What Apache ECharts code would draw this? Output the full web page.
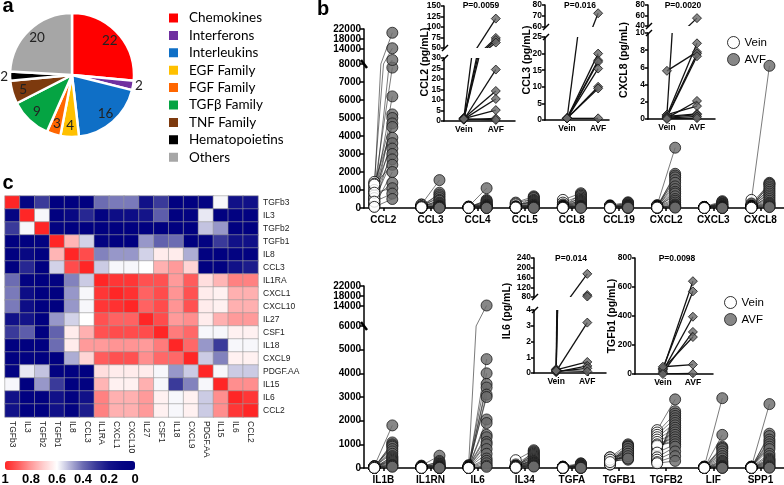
<!DOCTYPE html>
<html>
<head>
<meta charset="utf-8">
<title>Cytokines: vein vs AVF</title>
<script src="https://cdn.jsdelivr.net/npm/echarts@6.0.0/dist/echarts.min.js"></script>
<style>
  html, body { margin: 0; padding: 0; background: #fff; }
  #chart { width: 784px; height: 485px; }
</style>
</head>
<body>
<div id="chart"></div>
<script>
(function () {
  'use strict';

  // ---------- panel a : cytokine families ----------
  var familyNames = ['Chemokines', 'Interferons', 'Interleukins', 'EGF Family', 'FGF Family',
    'TGFβ Family', 'TNF Family', 'Hematopoietins', 'Others'];
  var familyCounts = [22, 2, 16, 4, 3, 9, 5, 2, 20];
  var familyColors = ['#ff0000', '#7030a0', '#0f6fc6', '#ffc000', '#ff6600',
    '#05a443', '#7d3a0e', '#000000', '#a6a6a6'];

  // ---------- panel b, top : chemokines (pg/mL) ----------
  var chemokines = ['CCL2', 'CCL3', 'CCL4', 'CCL5', 'CCL8', 'CCL19', 'CXCL2', 'CXCL3', 'CXCL8'];
  var chemoVein = [
    [900, 1450, 300, 1100, 600, 1200, 200, 800, 1350, 500, 1000, 150, 700, 400, 1300, 100, 550, 850, 350, 60],
    [200, 30, 150, 80, 120, 20, 100, 60, 180, 40, 90, 10, 50, 60, 80, 30, 100, 20, 50, 40],
    [80, 20, 60, 40, 50, 10, 70, 30, 50, 20, 40, 10, 60, 30, 20, 40, 50, 30, 20, 10],
    [300, 60, 250, 40, 150, 30, 200, 20, 100, 50, 80, 10, 60, 30, 40, 20, 50, 10, 20, 30],
    [450, 100, 300, 60, 200, 40, 150, 30, 120, 20, 100, 10, 80, 80, 60, 50, 40, 30, 20, 10],
    [150, 60, 120, 40, 100, 30, 80, 20, 50, 10, 100, 40, 80, 30, 60, 20, 50, 10, 30, 10],
    [160, 50, 130, 40, 100, 30, 80, 20, 60, 10, 120, 90, 70, 50, 30, 20, 10, 60, 40, 20],
    [60, 10, 50, 20, 40, 30, 50, 40, 30, 20, 10, 60, 50, 40, 30, 20, 10, 5, 5, 5],
    [450, 60, 250, 40, 200, 30, 150, 20, 120, 10, 100, 100, 80, 80, 60, 50, 40, 30, 20, 10]
  ];
  var chemoAvf = [
    [20500, 14300, 9600, 7800, 6200, 5200, 5000, 4700, 4500, 3900, 3600, 3300, 3000, 2700, 2400, 2000, 1400, 1100, 800, 500],
    [1550, 850, 750, 650, 550, 450, 400, 300, 250, 200, 150, 120, 100, 80, 60, 50, 40, 30, 20, 10],
    [1100, 450, 400, 350, 300, 250, 200, 180, 150, 120, 100, 80, 60, 50, 40, 30, 20, 15, 10, 5],
    [650, 600, 550, 450, 400, 350, 300, 250, 200, 180, 150, 120, 100, 80, 60, 50, 40, 30, 20, 10],
    [820, 750, 680, 600, 520, 450, 400, 350, 300, 250, 200, 150, 120, 100, 80, 60, 40, 30, 20, 10],
    [320, 280, 250, 200, 180, 150, 120, 100, 80, 60, 50, 40, 30, 20, 10, 90, 70, 50, 30, 10],
    [3350, 1900, 1800, 1700, 1550, 1400, 1200, 1050, 900, 800, 650, 500, 400, 300, 200, 150, 100, 80, 50, 20],
    [380, 330, 300, 250, 220, 200, 180, 150, 120, 100, 80, 60, 50, 40, 30, 20, 15, 10, 5, 5],
    [7900, 1400, 1350, 1300, 1200, 1100, 1000, 900, 800, 700, 600, 500, 400, 300, 250, 200, 150, 100, 80, 50]
  ];
  var chemoHighTicks = [14000, 18000, 22000];

  // ---------- panel b, bottom : interleukins / growth factors (pg/mL) ----------
  var growthNames = ['IL1B', 'IL1RN', 'IL6', 'IL34', 'TGFA', 'TGFB1', 'TGFB2', 'LIF', 'SPP1'];
  var growthVein = [
    [80, 10, 60, 30, 50, 20, 40, 70, 5, 30, 20, 10, 60, 40, 30, 20, 10, 50, 5, 5],
    [100, 20, 80, 10, 60, 50, 40, 30, 60, 50, 40, 30, 20, 10, 5, 5, 5, 5, 5, 5],
    [120, 10, 100, 20, 80, 30, 60, 40, 50, 80, 60, 50, 40, 30, 20, 10, 5, 5, 5, 5],
    [330, 20, 150, 40, 100, 60, 80, 30, 50, 100, 80, 60, 50, 40, 30, 20, 10, 60, 40, 20],
    [60, 10, 50, 20, 40, 30, 50, 40, 30, 20, 10, 5, 5, 5, 5, 5, 5, 5, 5, 5],
    [450, 250, 400, 200, 350, 300, 250, 200, 180, 150, 300, 350, 400, 300, 250, 200, 150, 450, 350, 250],
    [1600, 300, 1500, 400, 1400, 500, 1300, 600, 1200, 700, 1100, 800, 1000, 900, 950, 650, 450, 350, 250, 200],
    [60, 10, 50, 20, 40, 30, 50, 40, 30, 20, 10, 5, 5, 5, 5, 5, 5, 5, 5, 5],
    [60, 10, 50, 20, 40, 30, 50, 40, 30, 20, 10, 5, 5, 5, 5, 5, 5, 5, 5, 5]
  ];
  var growthAvf = [
    [1800, 1080, 1000, 950, 900, 800, 700, 600, 500, 450, 400, 350, 300, 250, 200, 150, 120, 100, 80, 50],
    [520, 300, 250, 200, 180, 150, 120, 100, 80, 60, 50, 40, 30, 20, 10, 5, 5, 5, 5, 5],
    [14200, 4600, 4000, 3550, 3400, 3100, 3000, 2050, 1900, 1400, 1300, 1100, 1000, 800, 600, 400, 300, 200, 100, 50],
    [750, 700, 650, 600, 550, 500, 450, 400, 350, 300, 280, 250, 220, 200, 180, 150, 120, 100, 80, 60],
    [200, 180, 150, 120, 100, 80, 60, 50, 40, 30, 20, 10, 5, 100, 80, 60, 40, 20, 10, 5],
    [1000, 950, 900, 850, 800, 750, 700, 650, 600, 550, 500, 450, 400, 350, 900, 800, 700, 600, 500, 400],
    [2900, 2400, 2300, 2200, 2100, 2000, 1900, 1800, 1700, 1600, 1500, 1400, 1300, 1200, 1100, 1000, 900, 700, 500, 300],
    [2950, 1400, 900, 850, 800, 700, 600, 500, 400, 300, 250, 200, 150, 100, 80, 60, 40, 20, 10, 5],
    [2700, 1450, 1350, 1200, 1100, 1000, 900, 800, 600, 500, 400, 350, 300, 250, 200, 150, 100, 60, 30, 10]
  ];
  var growthHighTicks = [14000, 18000, 22000];

  // ---------- insets (paired, pg/mL) ----------
  var groups = ['Vein', 'AVF'];
  var ccl2Vein = [1.5, 1.2, 0.8, 1.0, 0.6, 1.3, 0.9, 1.1, 0.7, 1.0];
  var ccl2Avf = [120, 74, 69, 63, 24.5, 14.3, 10.5, 5.2, 1.2, 0.5];
  var ccl3Vein = [0.5, 0.5, 0.5, 0.5, 0.5, 0.5, 0.5, 0.5];
  var ccl3Avf = [72.5, 20, 18, 17.5, 15.5, 10, 9.5, 0.5];
  var cxcl8Vein = [5.6, 0.5, 0.4, 0.3, 0.2, 0.1, 0.5, 0.3, 0.2, 0.1, 0.0];
  var cxcl8Avf = [7.8, 55, 8.8, 7.6, 7.3, 2.1, 1.5, 0.6, 0.5, 0.3, 0.1];
  var il6Vein = [0.2, 0.25, 0.15, 0.1, 0.2, 0.05, 0.1, 0.15];
  var il6Avf = [175, 88, 82, 3.2, 0.7, 0.45, 0.3, 0.1];
  var tgfb1Vein = [30, 40, 20, 10, 35, 50, 0];
  var tgfb1Avf = [640, 570, 395, 290, 255, 65, 5];
  var pValues = ['P=0.0059', 'P=0.016', 'P=0.0020', 'P=0.014', 'P=0.0098'];

  // ---------- panel c : correlation matrix ----------
  var corrNames = ['TGFb3', 'IL3', 'TGFb2', 'TGFb1', 'IL8', 'CCL3', 'IL1RA', 'CXCL1', 'CXCL10',
    'IL27', 'CSF1', 'IL18', 'CXCL9', 'PDGF.AA', 'IL15', 'IL6', 'CCL2'];
  var corr = [
    [1, 0.10, 0.30, 0.02, 0.02, 0.01, 0.40, 0.42, 0.42, 0.18, 0.30, 0.02, 0.03, 0.08, 0.59, 0.18, 0.18],
    [0.10, 1, 0.59, 0.02, 0.12, 0.25, 0.06, 0.15, 0.15, 0.20, 0.37, 0.02, 0.05, 0.57, 0.01, 0.03, 0.03],
    [0.30, 0.59, 1, 0.06, 0.02, 0.01, 0.01, 0.01, 0.01, 0.01, 0.01, 0.01, 0.01, 0.52, 0.46, 0.02, 0.02],
    [0.02, 0.02, 0.06, 1, 0.75, 0.54, 0.05, 0.02, 0.02, 0.46, 0.38, 0.40, 0.02, 0.05, 0.30, 0.18, 0.18],
    [0.02, 0.12, 0.02, 0.75, 1, 0.93, 0.43, 0.46, 0.46, 0.54, 0.64, 0.64, 0.49, 0.03, 0.02, 0.05, 0.05],
    [0.01, 0.25, 0.01, 0.54, 0.93, 1, 0.53, 0.59, 0.59, 0.60, 0.76, 0.80, 0.69, 0.02, 0.03, 0.18, 0.22],
    [0.40, 0.06, 0.01, 0.05, 0.43, 0.53, 1, 0.97, 0.97, 0.92, 0.92, 0.80, 0.90, 0.67, 0.75, 0.84, 0.84],
    [0.42, 0.15, 0.01, 0.02, 0.46, 0.59, 0.97, 1, 0.98, 0.89, 0.93, 0.81, 0.92, 0.64, 0.63, 0.76, 0.76],
    [0.42, 0.15, 0.01, 0.02, 0.46, 0.59, 0.97, 0.98, 1, 0.89, 0.93, 0.81, 0.92, 0.64, 0.63, 0.76, 0.76],
    [0.18, 0.20, 0.01, 0.46, 0.54, 0.60, 0.92, 0.89, 0.89, 1, 0.93, 0.80, 0.82, 0.64, 0.76, 0.80, 0.80],
    [0.30, 0.37, 0.01, 0.38, 0.64, 0.76, 0.92, 0.93, 0.93, 0.93, 1, 0.85, 0.88, 0.59, 0.59, 0.63, 0.63],
    [0.02, 0.02, 0.01, 0.40, 0.64, 0.80, 0.80, 0.81, 0.81, 0.80, 0.85, 1, 0.88, 0.46, 0.30, 0.59, 0.59],
    [0.03, 0.05, 0.01, 0.02, 0.49, 0.69, 0.90, 0.92, 0.92, 0.82, 0.88, 0.88, 1, 0.53, 0.43, 0.63, 0.63],
    [0.08, 0.57, 0.52, 0.05, 0.03, 0.02, 0.67, 0.64, 0.64, 0.64, 0.59, 0.46, 0.53, 1, 0.59, 0.53, 0.53],
    [0.59, 0.01, 0.46, 0.30, 0.02, 0.03, 0.75, 0.63, 0.63, 0.76, 0.59, 0.30, 0.43, 0.59, 1, 0.82, 0.82],
    [0.18, 0.03, 0.02, 0.18, 0.05, 0.18, 0.84, 0.76, 0.76, 0.80, 0.63, 0.59, 0.63, 0.53, 0.82, 1, 0.97],
    [0.18, 0.03, 0.02, 0.18, 0.05, 0.22, 0.84, 0.76, 0.76, 0.80, 0.63, 0.59, 0.63, 0.53, 0.82, 0.97, 1]
  ];
  var colorbarTicks = [1, 0.8, 0.6, 0.4, 0.2, 0];
  var heatColors = ['#000080', '#050582', '#141489', '#3a3a9a', '#6c6cb2', '#b4b4d8',
    '#ffffff', '#ffd0d0', '#ff9a9a', '#ff5c5c', '#ff2626'];

  // ---------- layout ----------
  var OFFSET = 9;   // px from a category centre to its Vein / AVF column
  var ARIAL = '"Liberation Sans", Arial, sans-serif';
  var AXIS_LINE = { show: true, onZero: false, lineStyle: { color: '#000', width: 1.5 } };

  var chemoBox = {
    left: 364, width: 420, xMin: -0.41, xMax: 8.5,
    upper: { top: 29, height: 35, min: 8000, max: 22000, ticks: chemoHighTicks },
    lower: { top: 64, height: 144, min: 0, max: 8000, interval: 1000 }
  };
  var growthBox = {
    left: 364, width: 420, xMin: -0.41, xMax: 8.5,
    upper: { top: 286, height: 40, min: 6000, max: 22000, ticks: growthHighTicks },
    lower: { top: 326, height: 142, min: 0, max: 6000, interval: 1000 }
  };

  var insets = [
    { title: 'CCL2 (pg/mL)', p: pValues[0], vein: ccl2Vein, avf: ccl2Avf,
      left: 444, width: 71, xMin: -0.62, xMax: 1.6, titleAt: [425, 62], pAt: [481, 6],
      upper: { top: 6, height: 42, min: 50, max: 150, interval: 25 },
      lower: { top: 58, height: 63, min: 0, max: 30, interval: 5 } },
    { title: 'CCL3 (pg/mL)', p: pValues[1], vein: ccl3Vein, avf: ccl3Avf,
      left: 545, width: 64, xMin: -0.71, xMax: 1.35, titleAt: [527, 60], pAt: [580, 6],
      upper: { top: 5, height: 22, min: 60, max: 80, interval: 10 },
      lower: { top: 37, height: 83, min: 0, max: 25, interval: 5 } },
    { title: 'CXCL8 (pg/mL)', p: pValues[2], vein: cxcl8Vein, avf: cxcl8Avf,
      left: 648, width: 67, xMin: -0.63, xMax: 1.6, titleAt: [624, 60], pAt: [683, 6],
      upper: { top: 5, height: 21, min: 40, max: 80, interval: 20 },
      lower: { top: 33, height: 86, min: 0, max: 10, interval: 2 } },
    { title: 'IL6 (pg/mL)', p: pValues[3], vein: il6Vein, avf: il6Avf,
      left: 534, width: 72, xMin: -0.71, xMax: 1.6, titleAt: [507, 311], pAt: [571, 259],
      upper: { top: 258, height: 39, min: 80, max: 240, interval: 40 },
      lower: { top: 310, height: 63, min: 0, max: 4, interval: 1 } },
    { title: 'TGFb1 (pg/mL)', p: pValues[4], vein: tgfb1Vein, avf: tgfb1Avf,
      left: 635, width: 78, xMin: -0.93, xMax: 1.67, titleAt: [612, 316], pAt: [677, 259],
      lower: { top: 258, height: 116, min: 0, max: 800, interval: 200 } }
  ];

  var option = {
    animation: false,
    backgroundColor: '#fff',
    textStyle: { fontFamily: ARIAL },
    grid: [], xAxis: [], yAxis: [], series: [], legend: [], graphic: [], visualMap: []
  };

  function plain(v) { return String(v); }

  function addGrid(left, top, width, height) {
    option.grid.push({ left: left, top: top, width: width, height: height,
      containLabel: false, outerBoundsMode: 'none' });
    return option.grid.length - 1;
  }

  function addYAxis(grid, seg, fontSize, tickLen) {
    var axis = {
      type: 'value', gridIndex: grid, min: seg.min, max: seg.max,
      axisLine: AXIS_LINE, splitLine: { show: false },
      axisTick: { show: true, length: tickLen, lineStyle: { color: '#000', width: 1.5 } },
      axisLabel: { color: '#000', fontWeight: 'bold', fontSize: fontSize, margin: 3, fontFamily: ARIAL,
        hideOverlap: false, formatter: plain }
    };
    if (seg.ticks) {
      axis.axisLabel.customValues = seg.ticks;
      axis.axisTick.customValues = seg.ticks;
    } else {
      axis.interval = seg.interval;
    }
    option.yAxis.push(axis);
    return option.yAxis.length - 1;
  }

  function addXAxis(grid, min, max, names, show, fontSize, margin) {
    var idx = names.map(function (n, i) { return i; });
    option.xAxis.push({
      type: 'value', gridIndex: grid, min: min, max: max, show: show,
      axisLine: AXIS_LINE, splitLine: { show: false },
      axisTick: { show: true, length: 3, customValues: idx, lineStyle: { color: '#000', width: 1.5 } },
      axisLabel: { customValues: idx, color: '#000', fontWeight: 'bold', fontSize: fontSize,
        margin: margin, fontFamily: ARIAL, hideOverlap: false,
        formatter: function (v) { return names[Math.round(v)]; } }
    });
    return option.xAxis.length - 1;
  }

  function addText(text, x, y, font, rotation) {
    option.graphic.push({ type: 'text', x: x, y: y, rotation: rotation || 0, silent: true, z: 50,
      style: { text: text, font: font, fill: '#000', align: 'center', verticalAlign: 'middle' } });
  }

  function addSlash(x1, y1, x2, y2, w) {
    option.graphic.push({ type: 'line', silent: true, z: 50,
      shape: { x1: x1, y1: y1, x2: x2, y2: y2 }, style: { stroke: '#000', lineWidth: w } });
  }

  // paired strip chart on a broken axis
  function pairedLine(params, api) {
    var a = api.coord([api.value(0), api.value(1)]);
    var b = api.coord([api.value(0), api.value(2)]);
    return { type: 'line', shape: { x1: a[0] - OFFSET, y1: a[1], x2: b[0] + OFFSET, y2: b[1] },
      style: { stroke: '#222', lineWidth: 0.6 } };
  }

  function addStripChart(names, vein, avf, box) {
    var pairs = [], veinPts = [], avfPts = [];
    names.forEach(function (n, i) {
      vein[i].forEach(function (v, k) {
        pairs.push([i, v, avf[i][k]]);
        veinPts.push([i, v]);
        avfPts.push([i, avf[i][k]]);
      });
    });
    [box.lower, box.upper].forEach(function (seg, s) {
      var g = addGrid(box.left, seg.top, box.width, seg.height);
      var xi = addXAxis(g, box.xMin, box.xMax, names, s === 0, 10, 7);
      var yi = addYAxis(g, seg, 10, 4);
      option.series.push(
        { type: 'custom', xAxisIndex: xi, yAxisIndex: yi, clip: true, silent: true, z: 2,
          data: pairs, renderItem: pairedLine },
        { type: 'scatter', name: 'Vein', xAxisIndex: xi, yAxisIndex: yi, clip: true, z: 3,
          symbol: 'circle', symbolSize: 11, symbolOffset: [-OFFSET, 0], data: veinPts,
          itemStyle: { color: '#fff', borderColor: '#000', borderWidth: 1 }, emphasis: { disabled: true } },
        { type: 'scatter', name: 'AVF', xAxisIndex: xi, yAxisIndex: yi, clip: true, z: 4,
          symbol: 'circle', symbolSize: 11, symbolOffset: [OFFSET, 0], data: avfPts,
          itemStyle: { color: '#696969', borderColor: '#1a1a1a', borderWidth: 1 }, emphasis: { disabled: true } }
      );
    });
    var y = box.lower.top;
    addSlash(box.left - 3, y - 4, box.left + 3, y + 4, 2.5);
  }

  // small paired inset
  function insetLine(params, api) {
    var a = api.coord([0, api.value(0)]);
    var b = api.coord([1, api.value(1)]);
    return { type: 'line', shape: { x1: a[0], y1: a[1], x2: b[0], y2: b[1] },
      style: { stroke: '#111', lineWidth: 1.3 } };
  }

  function addInset(cfg) {
    var pairs = cfg.vein.map(function (v, k) { return [v, cfg.avf[k]]; });
    var pts = [];
    cfg.vein.forEach(function (v, k) { pts.push([0, v], [1, cfg.avf[k]]); });
    var segs = cfg.upper ? [cfg.lower, cfg.upper] : [cfg.lower];
    segs.forEach(function (seg, s) {
      var g = addGrid(cfg.left, seg.top, cfg.width, seg.height);
      var xi = addXAxis(g, cfg.xMin, cfg.xMax, groups, s === 0, 8.5, 4);
      var yi = addYAxis(g, seg, 8.5, 3);
      option.series.push(
        { type: 'custom', xAxisIndex: xi, yAxisIndex: yi, clip: true, silent: true, z: 5,
          data: pairs, renderItem: insetLine },
        { type: 'scatter', name: 'inset', xAxisIndex: xi, yAxisIndex: yi, clip: true, z: 6,
          symbol: 'diamond', symbolSize: 9, data: pts,
          itemStyle: { color: '#686868', borderColor: '#111', borderWidth: 1 }, emphasis: { disabled: true } }
      );
    });
    if (cfg.upper) {
      var yb = cfg.upper.top + cfg.upper.height;
      addSlash(cfg.left - 2, yb + 3, cfg.left + 4, yb - 3, 1.5);
      addSlash(cfg.left - 2, cfg.lower.top + 3, cfg.left + 4, cfg.lower.top - 3, 1.5);
    }
    addText(cfg.title, cfg.titleAt[0], cfg.titleAt[1], 'bold 10.5px ' + ARIAL, Math.PI / 2);
    addText(cfg.p, cfg.pAt[0], cfg.pAt[1], 'bold 8.5px ' + ARIAL);
  }

  // ---------- panel b ----------
  addStripChart(chemokines, chemoVein, chemoAvf, chemoBox);
  addStripChart(growthNames, growthVein, growthAvf, growthBox);
  insets.forEach(addInset);

  var bLegend = [
    { name: 'Vein', icon: 'circle', itemStyle: { color: '#fff', borderColor: '#000', borderWidth: 1 } },
    { name: 'AVF', icon: 'circle', itemStyle: { color: '#696969', borderColor: '#1a1a1a', borderWidth: 1 } }
  ];
  [[727, 36], [724, 296]].forEach(function (at) {
    option.legend.push({ data: bLegend, orient: 'vertical', left: at[0], top: at[1], padding: 0,
      itemWidth: 12, itemHeight: 12, itemGap: 4, selectedMode: false,
      textStyle: { fontSize: 11.5, color: '#000', fontFamily: ARIAL } });
  });

  // ---------- panel a ----------
  var pieData = familyNames.map(function (n, i) {
    return { name: n, value: familyCounts[i], itemStyle: { color: familyColors[i] } };
  });
  option.series.push({
    type: 'pie', name: 'families', center: [72, 75], radius: 62, startAngle: 90, clockwise: true,
    silent: true, label: { show: false }, labelLine: { show: false },
    itemStyle: { borderColor: '#fff', borderWidth: 2.5 }, data: pieData
  });
  option.series.push({
    type: 'pie', name: 'familyLabels', center: [72, 75], radius: [34, 62], startAngle: 90, clockwise: true,
    silent: true, avoidLabelOverlap: false,
    itemStyle: { color: 'rgba(0,0,0,0)', borderWidth: 0 },
    label: { show: true, position: 'inside', formatter: '{c}', fontFamily: 'Lato', fontSize: 13.5, color: '#222' },
    labelLine: { show: false },
    data: familyNames.map(function (n, i) {
      var item = { name: n, value: familyCounts[i] };
      if (familyCounts[i] <= 2) {
        item.label = { position: 'outside', distanceToLabelLine: 1 };
        item.labelLine = { show: false, length: 1, length2: 0 };
      }
      return item;
    })
  });
  option.legend.push({
    data: familyNames.map(function (n) { return { name: n, icon: 'rect' }; }),
    orient: 'vertical', left: 167, top: 11, padding: 0, itemWidth: 11, itemHeight: 11, itemGap: 3.4,
    selectedMode: false,
    textStyle: { fontFamily: 'Lato', fontSize: 13.5, lineHeight: 12, color: '#000', padding: [0, 0, 0, 5] }
  });

  // ---------- panel c ----------
  var hg = addGrid(5, 196, 253, 221);
  option.xAxis.push({ type: 'category', gridIndex: hg, data: corrNames, position: 'bottom',
    axisLine: { show: false }, axisTick: { show: false }, splitLine: { show: false },
    axisLabel: { interval: 0, rotate: -90, fontSize: 8.5, color: '#222', margin: 4, fontFamily: ARIAL } });
  option.yAxis.push({ type: 'category', gridIndex: hg, data: corrNames, inverse: true, position: 'right',
    axisLine: { show: false }, axisTick: { show: false }, splitLine: { show: false },
    axisLabel: { interval: 0, fontSize: 8.5, color: '#222', margin: 5, fontFamily: ARIAL } });
  var cells = [];
  corr.forEach(function (row, r) {
    row.forEach(function (v, c) { cells.push([c, r, v]); });
  });
  option.series.push({ type: 'heatmap', name: 'corr', xAxisIndex: option.xAxis.length - 1,
    yAxisIndex: option.yAxis.length - 1, data: cells, silent: true,
    itemStyle: { borderColor: '#9a9a9a', borderWidth: 0.6 }, emphasis: { disabled: true } });
  var heatIndex = option.series.length - 1;

  option.visualMap.push({ type: 'continuous', seriesIndex: heatIndex, min: 0, max: 1,
    orient: 'horizontal', inverse: true, left: 5, top: 461, itemWidth: 9, itemHeight: 130,
    calculable: false, hoverLink: false, padding: 0, inRange: { color: heatColors } });

  var cg = addGrid(5, 461, 130, 9);
  option.xAxis.push({ type: 'value', gridIndex: cg, min: 0, max: 1, inverse: true,
    axisLine: { show: false }, axisTick: { show: false }, splitLine: { show: false },
    axisLabel: { customValues: colorbarTicks, fontSize: 13, fontWeight: 'bold', color: '#000', margin: 3,
      fontFamily: ARIAL, hideOverlap: false, formatter: plain } });
  option.yAxis.push({ type: 'value', gridIndex: cg, show: false, min: 0, max: 1 });

  // panel letters
  addText('a', 8, 6, 'bold 20px ' + ARIAL);
  addText('b', 323, 9, 'bold 20px ' + ARIAL);
  addText('c', 8, 183, 'bold 20px ' + ARIAL);

  var chart = echarts.init(document.getElementById('chart'), null, { renderer: 'canvas' });
  chart.setOption(option);
})();
</script>
</body>
</html>
